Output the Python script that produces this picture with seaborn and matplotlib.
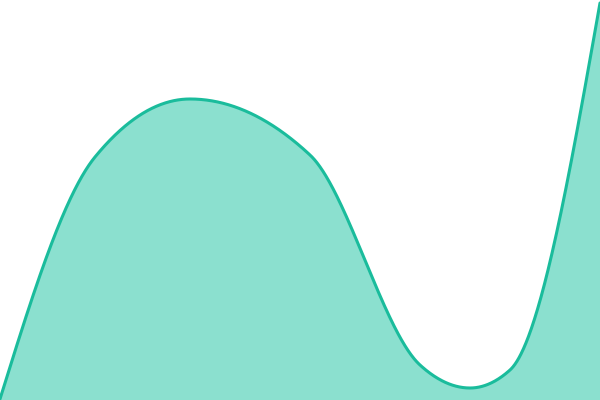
import numpy as np
import pandas as pd
import matplotlib
matplotlib.use("Agg")
import matplotlib.pyplot as plt
import seaborn as sns

# data points (x position, height from bottom)
x_pts = [0, 95, 190, 310, 420, 470, 510, 600]
y_pts = [1, 243, 301, 245, 35, 12, 30, 397]

line_color = "#1abc9c"
fill_color = "#8be0cf"


def monotone_x(x, y, xs):
    # same idea as d3.curveMonotoneX
    x = np.asarray(x, float)
    y = np.asarray(y, float)
    h = np.diff(x)
    s = np.diff(y) / h
    m = np.zeros_like(y)
    for k in range(1, len(x) - 1):
        p = (s[k - 1] * h[k] + s[k] * h[k - 1]) / (h[k - 1] + h[k])
        m[k] = (np.sign(s[k - 1]) + np.sign(s[k])) * min(abs(s[k - 1]), abs(s[k]), 0.5 * abs(p))
    m[0] = (3 * s[0] - m[1]) / 2
    m[-1] = (3 * s[-1] - m[-2]) / 2
    idx = np.clip(np.searchsorted(x, xs) - 1, 0, len(x) - 2)
    t = (xs - x[idx]) / h[idx]
    h00 = 2 * t**3 - 3 * t**2 + 1
    h10 = t**3 - 2 * t**2 + t
    h01 = -2 * t**3 + 3 * t**2
    h11 = t**3 - t**2
    return h00 * y[idx] + h10 * h[idx] * m[idx] + h01 * y[idx + 1] + h11 * h[idx] * m[idx + 1]


xs = np.linspace(0, 600, 1201)
df = pd.DataFrame({"x": xs, "y": monotone_x(x_pts, y_pts, xs)})

sns.set_style("white")
fig = plt.figure(figsize=(6, 4), dpi=100)
ax = fig.add_axes([0, 0, 1, 1])
ax.fill_between(df["x"], df["y"], 0, color=fill_color, linewidth=0)
sns.lineplot(data=df, x="x", y="y", ax=ax, color=line_color, linewidth=2.2)
ax.set_xlim(0, 600)
ax.set_ylim(0, 400)
ax.axis("off")
fig.savefig("out.png", dpi=100)
